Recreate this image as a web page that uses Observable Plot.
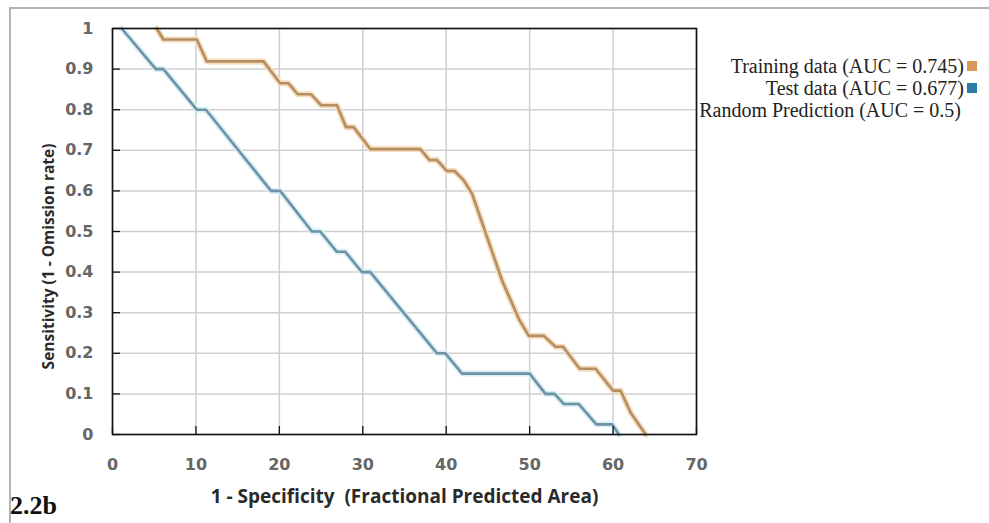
<!DOCTYPE html>
<html><head><meta charset="utf-8">
<script src="https://cdn.jsdelivr.net/npm/d3@7"></script>
<script src="https://cdn.jsdelivr.net/npm/@observablehq/plot@0.6"></script>
<style>
body{margin:0;background:#fff;}
#wrap{position:relative;width:989px;height:523px;overflow:hidden;background:#fff;}
#wrap svg{position:absolute;left:0;top:0;}
#border{position:absolute;left:9px;top:7px;width:990px;height:530px;border-top:2px solid #b4b4b4;border-left:2px solid #b4b4b4;}
.leg{position:absolute;font-family:"Liberation Serif",serif;font-size:20px;line-height:22px;color:#222;white-space:nowrap;}
.sw{position:absolute;width:10px;height:10px;}
#fig{position:absolute;left:10px;top:491px;font-family:"Liberation Serif",serif;font-weight:bold;font-size:26px;line-height:30px;color:#111;}
svg g[aria-label="x-axis label"] text{font-family:"Open Sans",sans-serif;font-weight:700;font-size:19px;fill:#2a2a2a;}
svg g[aria-label="y-axis label"] text{font-family:"Open Sans",sans-serif;font-weight:700;font-size:15.5px;fill:#2a2a2a;}
</style></head>
<body><div id="wrap"><div id="border"></div></div>
<script>
// Training ROC curve
const trainX = [5.3, 6.1, 10.1, 11.3, 18.1, 20.1, 21.1, 22.2, 23.8, 25.0, 26.9, 28.0, 28.9, 30.9, 36.9, 38.0, 38.9, 40.1, 41.0, 42.1, 43.1, 46.7, 48.7, 49.9, 51.7, 53.1, 54.0, 56.0, 57.9, 60.0, 60.9, 62.1, 63.9];
const trainY = [1, 0.973, 0.973, 0.919, 0.919, 0.865, 0.865, 0.838, 0.838, 0.811, 0.811, 0.757, 0.757, 0.703, 0.703, 0.676, 0.676, 0.649, 0.649, 0.626, 0.593, 0.379, 0.285, 0.243, 0.243, 0.216, 0.216, 0.162, 0.162, 0.108, 0.108, 0.054, 0];
// Test ROC curve
const testX = [1.1, 5.2, 6.1, 10.1, 11.2, 19.0, 20.1, 23.9, 24.9, 26.9, 27.9, 29.9, 30.9, 38.9, 39.9, 41.9, 50.0, 51.9, 53.0, 54.1, 55.9, 58.0, 59.9, 60.7];
const testY = [1, 0.9, 0.9, 0.8, 0.8, 0.6, 0.6, 0.5, 0.5, 0.45, 0.45, 0.4, 0.4, 0.2, 0.2, 0.15, 0.15, 0.1, 0.1, 0.075, 0.075, 0.025, 0.025, 0];
// Axis ticks
const xTicks = [0, 10, 20, 30, 40, 50, 60, 70];
const yTicks = [0, 0.1, 0.2, 0.3, 0.4, 0.5, 0.6, 0.7, 0.8, 0.9, 1];
// Legend
const legendLabels = ["Training data (AUC = 0.745)", "Test data (AUC = 0.677)", "Random Prediction (AUC = 0.5)"];
const legendColors = ["#d9995a", "#2b7aa3", null];

const train = trainX.map((x, i) => ({x, y: trainY[i]}));
const test = testX.map((x, i) => ({x, y: testY[i]}));

const W = 989, H = 523, mL = 112, mR = 293, mT = 28, mB = 89;
const innerW = W - mL - mR, innerH = H - mT - mB;

const chart = Plot.plot({
  width: W, height: H,
  marginLeft: mL, marginRight: mR, marginTop: mT, marginBottom: mB,
  style: {fontFamily: "'DejaVu Sans', sans-serif", fontSize: "16px", fontWeight: 700, color: "#666", background: "transparent", overflow: "visible"},
  x: {domain: [0, 70], ticks: xTicks},
  y: {domain: [0, 1], ticks: yTicks},
  marks: [
    Plot.gridX(xTicks, {stroke: "#cfcfcf", strokeOpacity: 1, strokeWidth: 1.5}),
    Plot.gridY(yTicks, {stroke: "#cfcfcf", strokeOpacity: 1, strokeWidth: 1.5}),
    Plot.line(train, {x: "x", y: "y", stroke: "#f6dcbd", strokeWidth: 6}),
    Plot.line(test, {x: "x", y: "y", stroke: "#d9eef7", strokeWidth: 6}),
    Plot.line(train, {x: "x", y: "y", stroke: "#b38f63", strokeWidth: 2.6}),
    Plot.line(test, {x: "x", y: "y", stroke: "#6e93a2", strokeWidth: 2.6}),
    Plot.tickX(xTicks, {x: d => d, stroke: "#111", strokeWidth: 1.3, insetTop: innerH - 8}),
    Plot.tickY(yTicks, {y: d => d, stroke: "#111", strokeWidth: 1.3, insetRight: innerW - 8}),
    Plot.frame({stroke: "#111", strokeWidth: 1.6}),
    Plot.axisX(xTicks, {tickSize: 0, tickPadding: 24, label: "1 - Specificity \u00a0(Fractional Predicted Area)", labelAnchor: "center", labelOffset: 68, labelArrow: "none"}),
    Plot.axisY(yTicks, {tickSize: 0, tickPadding: 19, tickFormat: d => String(d), label: "Sensitivity (1 - Omission rate)", labelAnchor: "center", labelOffset: 70, labelArrow: "none"})
  ]
});
const wrap = document.getElementById("wrap");
wrap.appendChild(chart);
// nudge the y-axis title down, as in the reference
const yl = chart.querySelector('g[aria-label="y-axis label"]');
if (yl) yl.setAttribute("transform", ((yl.getAttribute("transform") || "") + " translate(0,25)").trim());

const tops = [55, 77, 99];
const rights = [25, 25, 28];
legendLabels.forEach((t, i) => {
  const d = document.createElement("div");
  d.className = "leg";
  d.textContent = t;
  d.style.top = tops[i] + "px";
  d.style.right = rights[i] + "px";
  wrap.appendChild(d);
  if (legendColors[i]) {
    const s = document.createElement("div");
    s.className = "sw";
    s.style.background = legendColors[i];
    s.style.left = "967px";
    s.style.top = (tops[i] + 6) + "px";
    wrap.appendChild(s);
  }
});
const fig = document.createElement("div");
fig.id = "fig";
fig.textContent = "2.2b";
wrap.appendChild(fig);
</script>
</body></html>
